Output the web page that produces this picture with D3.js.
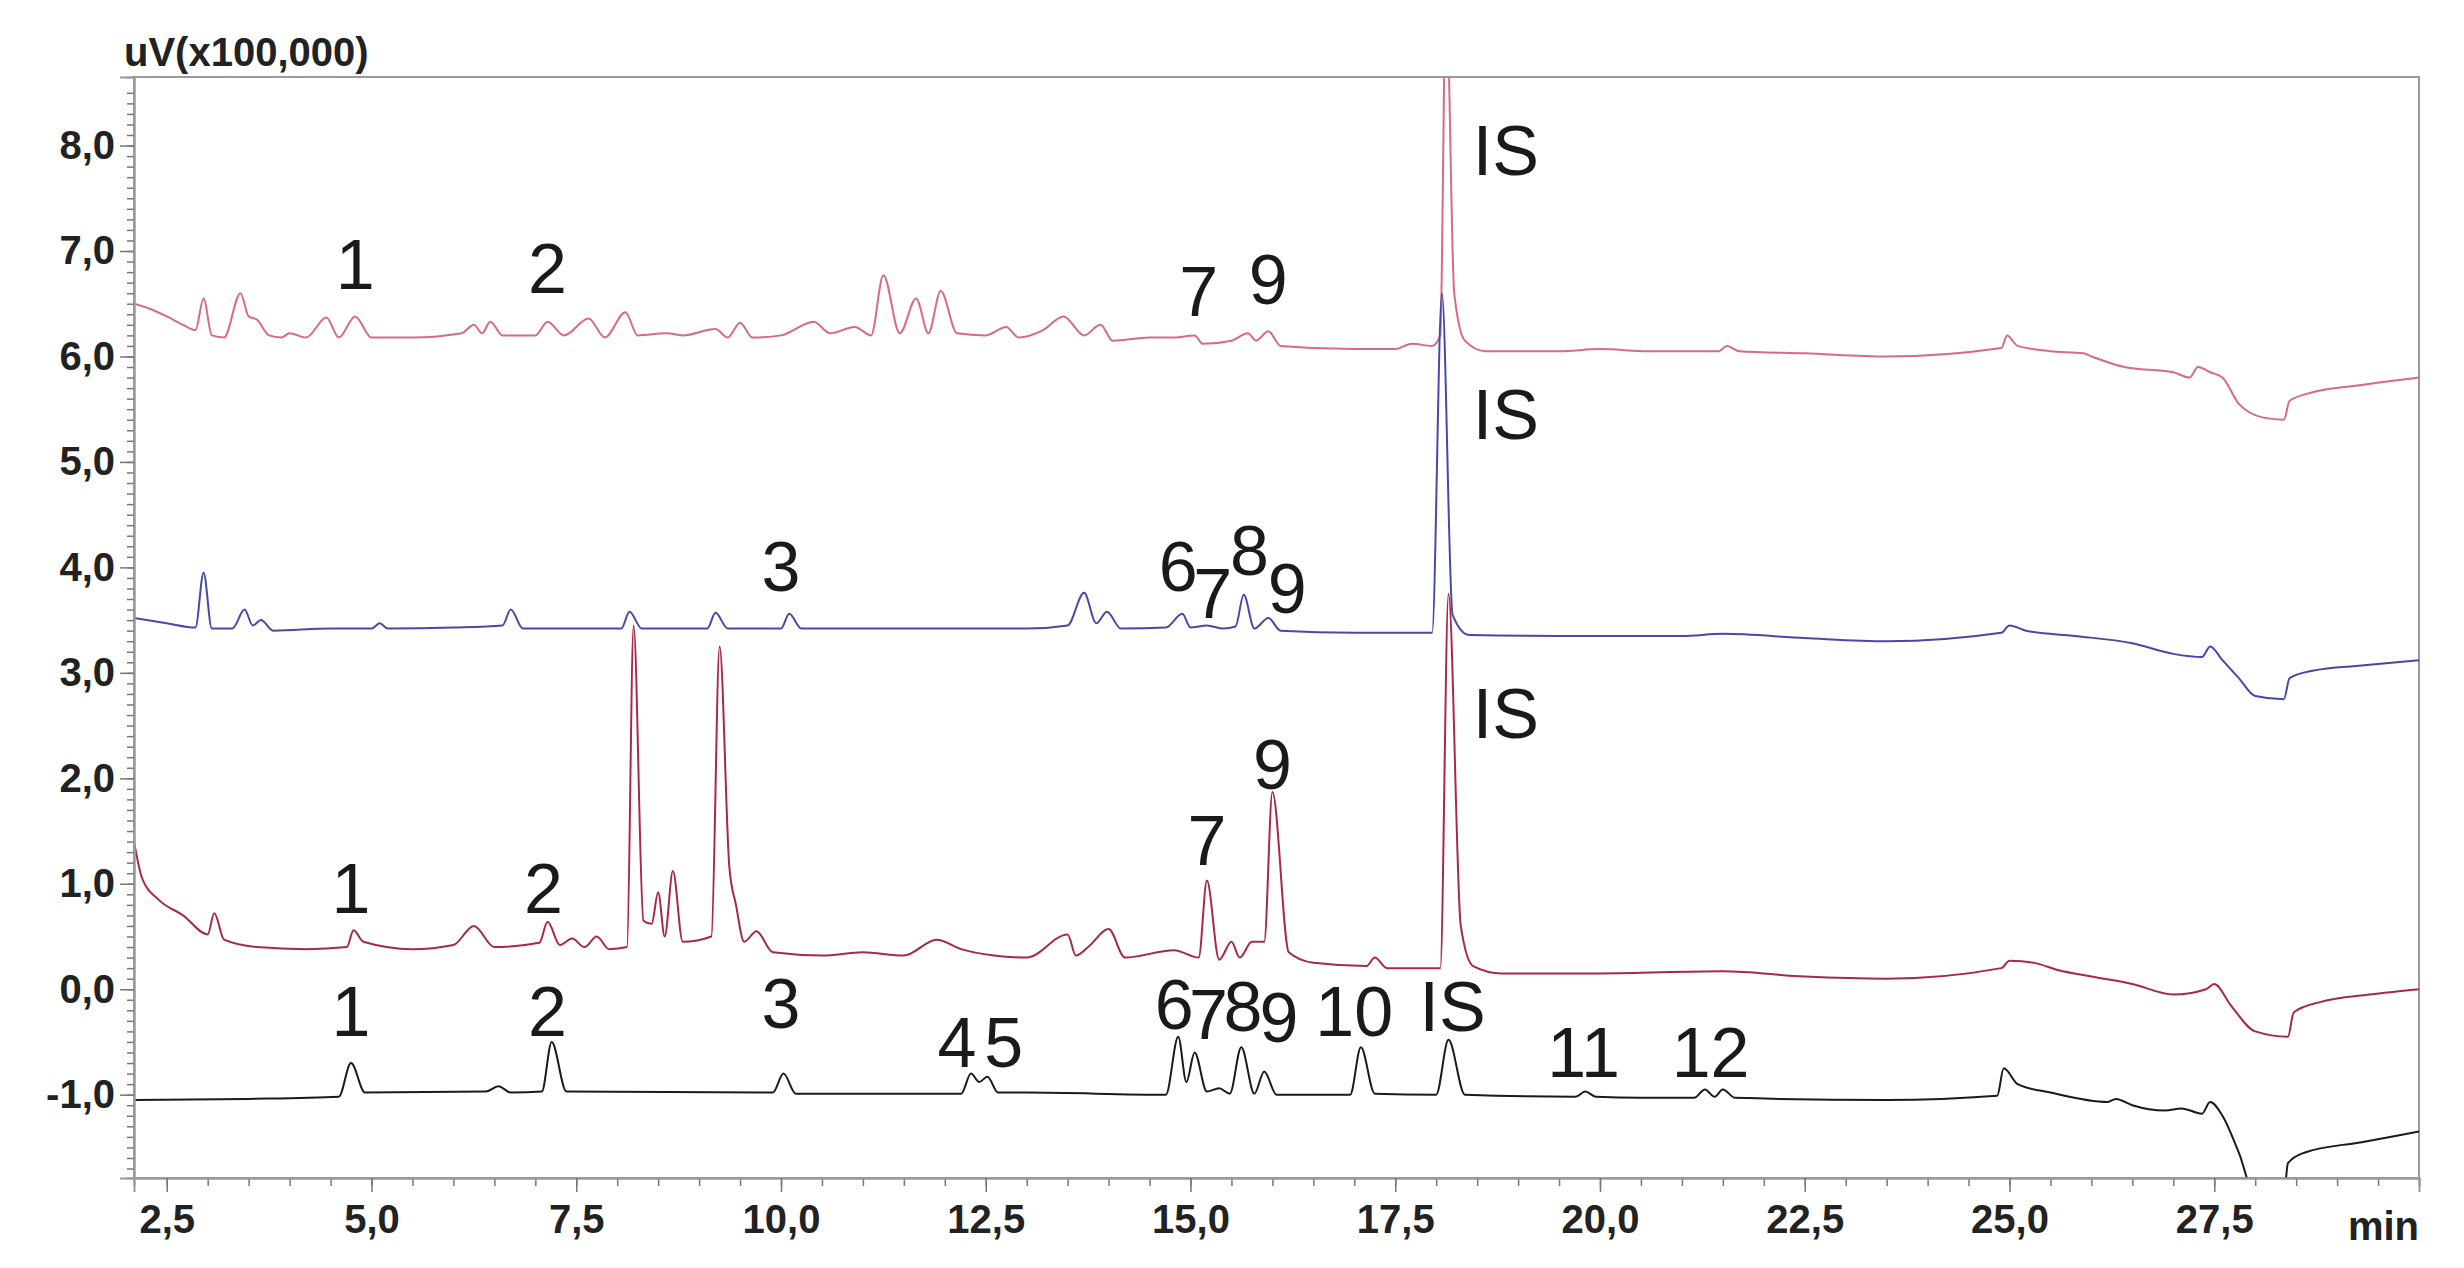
<!DOCTYPE html>
<html>
<head>
<meta charset="utf-8">
<script src="https://cdn.jsdelivr.net/npm/d3@7"></script>
<style>
  body { margin: 0; background: #fff; }
  text { font-family: "Liberation Sans", Arial, sans-serif; }
</style>
</head>
<body>
<div id="chart"></div>
<script>
// chromatogram traces, [min, uV x100,000]
var traceTop = [
  [2.1,6.5],[2.3,6.45],[2.5,6.38],[2.7,6.3],[2.85,6.25],[2.95,6.55],[3.05,6.2],[3.2,6.18],[3.4,6.6],[3.5,6.38],[3.6,6.35],[3.75,6.2],
  [3.9,6.18],[4.0,6.22],[4.2,6.18],[4.45,6.37],[4.6,6.18],[4.8,6.38],[5.0,6.18],[5.5,6.18],[6.1,6.22],[6.25,6.3],[6.35,6.22],[6.45,6.33],
  [6.6,6.2],[7.0,6.2],[7.15,6.33],[7.35,6.2],[7.65,6.36],[7.85,6.18],[8.1,6.42],[8.25,6.2],[8.6,6.22],[8.8,6.2],[9.2,6.26],[9.35,6.18],
  [9.5,6.32],[9.65,6.18],[10.0,6.2],[10.4,6.33],[10.6,6.22],[10.9,6.28],[11.1,6.2],[11.25,6.77],[11.45,6.22],[11.65,6.55],[11.8,6.22],
  [11.95,6.62],[12.15,6.22],[12.5,6.2],[12.75,6.28],[12.9,6.18],[13.2,6.25],[13.45,6.38],[13.7,6.2],[13.9,6.3],[14.05,6.15],[14.5,6.18],
  [14.8,6.18],[15.05,6.2],[15.15,6.12],[15.5,6.15],[15.7,6.22],[15.8,6.15],[15.95,6.24],[16.1,6.1],[17.0,6.07],[17.5,6.07],[17.7,6.12],
  [17.95,6.1],[18.05,6.2],[18.12,9.5],[18.22,6.6],[18.35,6.15],[18.6,6.05],[19.5,6.05],[20.0,6.07],[20.6,6.05],[21.45,6.05],[21.55,6.1],
  [21.7,6.05],[22.5,6.03],[23.5,6.0],[24.9,6.08],[24.97,6.2],[25.1,6.1],[25.5,6.05],[25.9,6.03],[26.0,6.0],[26.4,5.9],[27.0,5.85],[27.2,5.8],
  [27.3,5.9],[27.45,5.85],[27.6,5.8],[27.8,5.55],[28.1,5.42],[28.35,5.4],[28.42,5.58],[28.7,5.66],[29.3,5.73],[30.0,5.8]
];
var traceBlue = [
  [2.1,3.52],[2.5,3.47],[2.85,3.43],[2.95,3.95],[3.05,3.42],[3.3,3.42],[3.45,3.6],[3.55,3.45],[3.65,3.5],[3.8,3.4],[4.5,3.42],[5.0,3.42],
  [5.1,3.47],[5.2,3.42],[6.0,3.43],[6.6,3.45],[6.7,3.6],[6.85,3.42],[7.5,3.42],[8.05,3.42],[8.15,3.58],[8.3,3.42],[9.1,3.42],[9.2,3.57],
  [9.35,3.42],[10.0,3.42],[10.1,3.56],[10.25,3.42],[11.0,3.42],[12.0,3.42],[13.0,3.42],[13.5,3.45],[13.7,3.76],[13.85,3.47],[13.98,3.58],
  [14.15,3.42],[14.7,3.43],[14.9,3.56],[15.0,3.43],[15.2,3.45],[15.4,3.42],[15.55,3.44],[15.65,3.74],[15.78,3.42],[15.95,3.52],[16.1,3.4],
  [17.0,3.38],[17.95,3.38],[18.07,6.6],[18.2,3.55],[18.4,3.36],[19.5,3.35],[21.0,3.35],[21.5,3.37],[22.5,3.33],[23.5,3.3],[24.9,3.38],
  [25.0,3.45],[25.2,3.4],[25.8,3.35],[26.5,3.28],[27.0,3.18],[27.35,3.15],[27.45,3.25],[27.6,3.12],[27.8,2.95],[28.0,2.78],[28.35,2.75],
  [28.42,2.95],[28.7,3.02],[29.3,3.07],[30.0,3.12]
];
var traceMaroon = [
  [2.1,1.4],[2.2,1.05],[2.4,0.85],[2.7,0.7],[3.0,0.52],[3.08,0.72],[3.2,0.47],[3.6,0.4],[4.2,0.38],[4.7,0.4],[4.78,0.56],[4.9,0.45],
  [5.5,0.38],[6.0,0.42],[6.25,0.6],[6.5,0.4],[7.05,0.44],[7.15,0.64],[7.3,0.42],[7.45,0.48],[7.6,0.4],[7.75,0.5],[7.9,0.38],[8.12,0.4],
  [8.2,3.45],[8.32,0.65],[8.42,0.62],[8.5,0.92],[8.58,0.5],[8.68,1.12],[8.8,0.45],[9.15,0.5],[9.25,3.25],[9.37,1.15],[9.45,0.8],[9.55,0.45],
  [9.7,0.55],[9.9,0.35],[10.5,0.32],[11.0,0.35],[11.5,0.32],[11.9,0.47],[12.2,0.38],[12.6,0.32],[13.0,0.3],[13.5,0.52],[13.6,0.32],
  [13.75,0.4],[14.0,0.57],[14.2,0.3],[14.8,0.37],[15.1,0.3],[15.2,1.03],[15.35,0.28],[15.5,0.45],[15.6,0.3],[15.75,0.45],[15.9,0.45],
  [16.0,1.87],[16.2,0.35],[16.5,0.25],[17.15,0.22],[17.25,0.3],[17.4,0.2],[18.05,0.2],[18.15,3.75],[18.3,0.6],[18.45,0.22],[18.8,0.15],
  [20.0,0.15],[21.5,0.17],[22.5,0.12],[23.5,0.1],[24.9,0.2],[25.0,0.27],[25.3,0.25],[25.6,0.18],[26.0,0.12],[26.5,0.05],[27.0,-0.05],
  [27.4,0.0],[27.5,0.05],[27.7,-0.15],[28.0,-0.4],[28.4,-0.45],[28.47,-0.22],[28.8,-0.12],[29.4,-0.05],[30.0,0.0]
];
var traceBlack = [
  [2.1,-1.05],[3.5,-1.04],[4.6,-1.02],[4.75,-0.7],[4.92,-0.98],[6.4,-0.97],[6.55,-0.92],[6.7,-0.98],[7.08,-0.97],[7.2,-0.5],[7.38,-0.97],
  [9.9,-0.98],[10.03,-0.8],[10.18,-0.99],[12.2,-0.99],[12.32,-0.8],[12.42,-0.88],[12.52,-0.83],[12.65,-0.98],[13.0,-0.98],[14.7,-1.0],
  [14.85,-0.45],[14.95,-0.88],[15.05,-0.6],[15.2,-0.97],[15.35,-0.94],[15.48,-0.99],[15.62,-0.55],[15.78,-0.99],[15.9,-0.78],[16.05,-1.0],
  [16.95,-1.0],[17.08,-0.55],[17.25,-0.99],[18.0,-1.0],[18.15,-0.48],[18.35,-1.0],[19.7,-1.02],[19.82,-0.97],[19.95,-1.02],[20.5,-1.03],
  [21.15,-1.03],[21.28,-0.95],[21.4,-1.02],[21.5,-0.95],[21.65,-1.03],[23.5,-1.05],[24.85,-1.01],[24.93,-0.75],[25.1,-0.9],[25.5,-0.98],
  [26.2,-1.07],[26.3,-1.04],[26.5,-1.1],[26.9,-1.15],[27.1,-1.13],[27.35,-1.18],[27.45,-1.07],[27.6,-1.2],[27.8,-1.55],[28.0,-1.95],
  [28.35,-1.95],[28.4,-1.65],[28.6,-1.55],[29.3,-1.45],[30.0,-1.35]
];
var traces = [traceTop, traceBlue, traceMaroon, traceBlack];
var traceColors = ["#d86a84", "#4848a8", "#a8284a", "#1a1a1a"];

// peak labels: [text, min, baseline value]
var peakLabels = [
  ["1",4.8,6.64],["2",7.15,6.6],["7",15.1,6.38],["9",15.95,6.5],["IS",18.85,7.72],
  ["3",10.0,3.78],["6",14.85,3.78],["7",15.27,3.52],["8",15.72,3.93],["9",16.18,3.57],["IS",18.85,5.22],
  ["1",4.75,0.72],["2",7.1,0.72],["7",15.2,1.18],["9",16.0,1.9],["IS",18.85,2.38],
  ["1",4.75,-0.44],["2",7.15,-0.44],["3",10.0,-0.37],["4",12.15,-0.74],["5",12.72,-0.74],["6",14.8,-0.38],["7",15.22,-0.47],
  ["8",15.64,-0.4],["9",16.08,-0.5],["10",17.0,-0.44],["IS",18.2,-0.4],["11",19.8,-0.83],["12",21.35,-0.83]
];
var xTicks = [2.5, 5.0, 7.5, 10.0, 12.5, 15.0, 17.5, 20.0, 22.5, 25.0, 27.5];
var yTicks = [-1, 0, 1, 2, 3, 4, 5, 6, 7, 8];

var W = 2464, H = 1268;
var m = {left: 134, right: 2419, top: 77, bottom: 1178};
var fmt = function(v) { return v.toFixed(1).replace(".", ","); };

var svg = d3.select("#chart").append("svg").attr("width", W).attr("height", H);

var x = d3.scaleLinear().domain([2.1, 30.0]).range([m.left, m.right]);
var y = d3.scaleLinear().domain([-1.79, 8.65]).range([m.bottom, m.top]);

svg.append("defs").append("clipPath").attr("id", "clip")
  .append("rect").attr("x", m.left).attr("y", m.top).attr("width", m.right - m.left).attr("height", m.bottom - m.top);

// frame
svg.append("rect").attr("x", m.left).attr("y", m.top).attr("width", m.right - m.left).attr("height", m.bottom - m.top)
  .attr("fill", "none").attr("stroke", "#9a9a9a").attr("stroke-width", 2);

var line = d3.line().x(function(d) { return x(d[0]); }).y(function(d) { return y(d[1]); })
  .curve(d3.curveMonotoneX);

svg.append("g").attr("clip-path", "url(#clip)").selectAll("path").data(traces).enter().append("path")
  .attr("d", line).attr("fill", "none")
  .attr("stroke", function(d, i) { return traceColors[i]; })
  .attr("stroke-width", 2);

// axes
var xAxis = svg.append("g").attr("transform", "translate(0," + m.bottom + ")")
  .call(d3.axisBottom(x).tickValues(d3.range(2.5, 30.01, 0.5)).tickSize(8).tickFormat(""));
xAxis.append("g").call(d3.axisBottom(x).tickValues(xTicks).tickSize(14).tickFormat(fmt));
var yAxis = svg.append("g").attr("transform", "translate(" + m.left + ",0)")
  .call(d3.axisLeft(y).tickValues(d3.range(-17, 86).map(function(v) { return v / 10; })).tickSize(7).tickFormat(""));
yAxis.append("g").call(d3.axisLeft(y).tickValues(yTicks).tickSize(14).tickFormat(fmt));

svg.selectAll(".domain").attr("stroke", "#9a9a9a").attr("stroke-width", 2);
svg.selectAll(".tick line").attr("stroke", "#777").attr("stroke-width", 1.5);
svg.selectAll(".tick text").attr("font-family", "Liberation Sans, Arial, sans-serif")
  .attr("font-size", 40).attr("font-weight", "bold").attr("fill", "#222");
xAxis.selectAll(".tick text").attr("dy", "0.95em");
yAxis.selectAll(".tick text").attr("dx", "-0.05em");

svg.append("text").attr("x", m.right).attr("y", m.bottom + 62).attr("text-anchor", "end")
  .attr("font-size", 40).attr("font-weight", "bold").attr("fill", "#222").text("min");
svg.append("text").attr("x", 124).attr("y", 66)
  .attr("font-size", 40).attr("font-weight", "bold").attr("fill", "#222").text("uV(x100,000)");

svg.append("g").selectAll("text").data(peakLabels).enter().append("text")
  .attr("x", function(d) { return x(d[1]); }).attr("y", function(d) { return y(d[2]); })
  .attr("text-anchor", "middle").attr("font-size", 70).attr("fill", "#1a1a1a")
  .text(function(d) { return d[0]; });
</script>
</body>
</html>
